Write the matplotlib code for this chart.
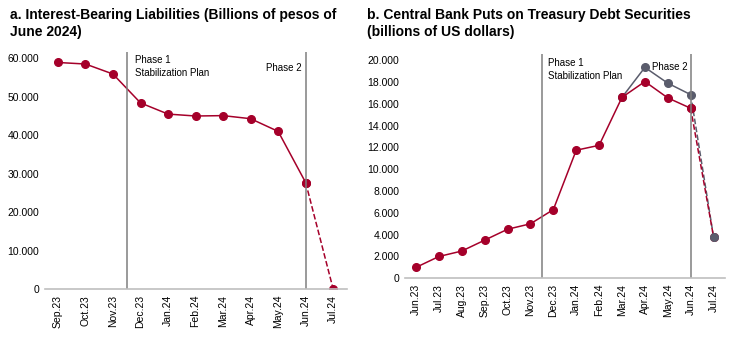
import matplotlib.pyplot as plt
from matplotlib.ticker import FuncFormatter

plt.rcParams['font.family'] = ['Liberation Sans', 'DejaVu Sans']

# Panel a data
months_a = ['Sep.23', 'Oct.23', 'Nov.23', 'Dec.23', 'Jan.24', 'Feb.24', 'Mar.24',
            'Apr.24', 'May.24', 'Jun.24', 'Jul.24']
liabilities = [58900, 58500, 55900, 48400, 45500, 45000, 45100, 44300, 41000, 27700, 0]

# Panel b data
months_b = ['Jun.23', 'Jul.23', 'Aug.23', 'Sep.23', 'Oct.23', 'Nov.23', 'Dec.23', 'Jan.24',
            'Feb.24', 'Mar.24', 'Apr.24', 'May.24', 'Jun.24', 'Jul.24']
puts_red = [1000, 2000, 2500, 3500, 4500, 5000, 6300, 11750, 12200, 16600, 18050, 16550, 15600, 3800]
puts_gray = [16600, 19350, 17900, 16850, 3800]   # Mar.24 .. Jul.24

RED = '#A5002A'
GRAY = '#5A5C6C'
VLINE = '#7F7F7F'

fmt = FuncFormatter(lambda v, p: '{:,.0f}'.format(v).replace(',', '.'))

fig = plt.figure(figsize=(7.33, 3.54), dpi=100)

def style(ax, labels):
    for s in ['left', 'right', 'top']:
        ax.spines[s].set_visible(False)
    ax.spines['bottom'].set_color('#BFBFBF')
    ax.spines['bottom'].set_linewidth(1.2)
    ax.tick_params(length=0, labelsize=7.5, pad=4)
    ax.set_xticks(range(len(labels)))
    ax.set_xticklabels(labels, rotation=90)
    ax.yaxis.set_major_formatter(fmt)

# Panel a
ax1 = fig.add_axes([45 / 733, 1 - 289.3 / 354, 302 / 733, 237.6 / 354])
n = len(liabilities)
ax1.plot(range(n - 1), liabilities[:-1], color=RED, lw=1.1, marker='o', ms=5.5)
ax1.plot([n - 2, n - 1], liabilities[-2:], color=RED, lw=1.1, ls='--', marker='o', ms=5.5)
ax1.axvline(2.5, color=VLINE, lw=1.1)
ax1.axvline(9, color=VLINE, lw=1.1)
ax1.set_xlim(-0.47, 10.5)
ax1.set_ylim(0, 61700)
ax1.set_yticks(range(0, 60001, 10000))
style(ax1, months_a)
ax1.text(2.8, 60800, 'Phase 1\nStabilization Plan', fontsize=7, va='top', linespacing=1.3)
ax1.text(8.85, 58700, 'Phase 2', fontsize=7, va='top', ha='right')

# Panel b
ax2 = fig.add_axes([405 / 733, 1 - 278.3 / 354, 320 / 733, 224 / 354])
m = len(puts_red)
ax2.plot(range(9, m - 1), puts_gray[:-1], color=GRAY, lw=1.1, marker='o', ms=5.5)
ax2.plot([m - 2, m - 1], puts_gray[-2:], color=GRAY, lw=1.1, ls='--')
ax2.plot(range(m - 1), puts_red[:-1], color=RED, lw=1.1, marker='o', ms=5.5)
ax2.plot([m - 2, m - 1], puts_red[-2:], color=RED, lw=1.1, ls='--', marker='o', ms=5.5)
ax2.plot([m - 1], puts_gray[-1:], color=GRAY, marker='o', ms=5.5)
ax2.axvline(5.5, color=VLINE, lw=1.1)
ax2.axvline(12, color=VLINE, lw=1.1)
ax2.set_xlim(-0.48, 13.5)
ax2.set_ylim(0, 20550)
ax2.set_yticks(range(0, 20001, 2000))
style(ax2, months_b)
ax2.text(5.75, 20200, 'Phase 1\nStabilization Plan', fontsize=7, va='top', linespacing=1.3)
ax2.text(11.85, 19850, 'Phase 2', fontsize=7, va='top', ha='right')

fig.text(10 / 733, 1 - 8 / 354, 'a. Interest-Bearing Liabilities (Billions of pesos of\nJune 2024)',
         fontsize=10, fontweight='bold', va='top', linespacing=1.25)
fig.text(367 / 733, 1 - 8 / 354, 'b. Central Bank Puts on Treasury Debt Securities\n(billions of US dollars)',
         fontsize=10, fontweight='bold', va='top', linespacing=1.25)

fig.savefig('out.png', dpi=100)
